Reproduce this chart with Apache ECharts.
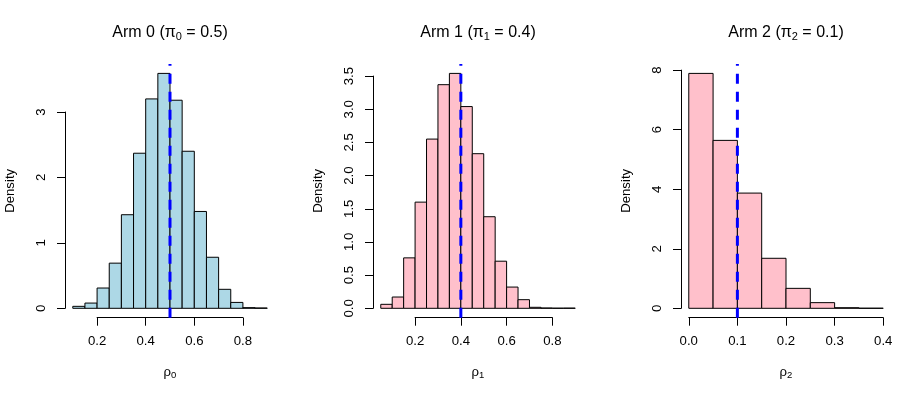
<!DOCTYPE html>
<html>
<head>
<meta charset="utf-8">
<script src="https://cdn.jsdelivr.net/npm/echarts@6/dist/echarts.min.js"></script>
<style>
  html, body { margin: 0; padding: 0; background: #fff; }
  #chart { width: 924px; height: 399px; }
</style>
</head>
<body>
<div id="chart"></div>
<script>
// bin edges + densities for each arm
const breaks0 = [0.10, 0.15, 0.20, 0.25, 0.30, 0.35, 0.40, 0.45, 0.50, 0.55, 0.60, 0.65, 0.70, 0.75, 0.80, 0.85, 0.90];
const density0 = [0.03, 0.08, 0.31, 0.69, 1.43, 2.37, 3.20, 3.59, 3.18, 2.40, 1.48, 0.78, 0.29, 0.09, 0.01, 0.005];

const breaks1 = [0.05, 0.10, 0.15, 0.20, 0.25, 0.30, 0.35, 0.40, 0.45, 0.50, 0.55, 0.60, 0.65, 0.70, 0.75, 0.80, 0.85, 0.90];
const density1 = [0.06, 0.17, 0.76, 1.60, 2.55, 3.37, 3.54, 3.04, 2.33, 1.38, 0.71, 0.32, 0.13, 0.015, 0.005, 0.002, 0.003];

const breaks2 = [0.00, 0.05, 0.10, 0.15, 0.20, 0.25, 0.30, 0.35, 0.40];
const density2 = [7.89, 5.64, 3.87, 1.68, 0.67, 0.19, 0.02, 0.003];

// true proportions (dashed lines)
const truePi = [0.5, 0.4, 0.1];

// tick labels
const xTickLabels0 = ["0.2", "0.4", "0.6", "0.8"];
const yTickLabels0 = ["0", "1", "2", "3"];
const xTickLabels1 = ["0.2", "0.4", "0.6", "0.8"];
const yTickLabels1 = ["0.0", "0.5", "1.0", "1.5", "2.0", "2.5", "3.0", "3.5"];
const xTickLabels2 = ["0.0", "0.1", "0.2", "0.3", "0.4"];
const yTickLabels2 = ["0", "2", "4", "6", "8"];

const titles = ["Arm 0 (π{s|0} = 0.5)", "Arm 1 (π{s|1} = 0.4)", "Arm 2 (π{s|2} = 0.1)"];
const xNames = ["ρ{s|0}", "ρ{s|1}", "ρ{s|2}"];
const fills = ["#add8e6", "#ffc0cb", "#ffc0cb"];

const panels = [
  { breaks: breaks0, dens: density0, xt: xTickLabels0, yt: yTickLabels0 },
  { breaks: breaks1, dens: density1, xt: xTickLabels1, yt: yTickLabels1 },
  { breaks: breaks2, dens: density2, xt: xTickLabels2, yt: yTickLabels2 },
];

const FONT = "Liberation Sans, Arial, sans-serif";
const panelW = 308;
const plotLeft = 65;
const plotW = 210;
const plotTop = 64;
const plotH = 253.7;

const subRich = (size, pad) => ({
  s: { fontSize: size, fontFamily: FONT, color: "#000", padding: [pad, 0, 0, 0] },
});

const grid = [];
const xAxis = [];
const yAxis = [];
const series = [];
const title = [];

panels.forEach((p, i) => {
  const L = i * panelW + plotLeft;
  // R style 4% range extension
  const xLo = p.breaks[0];
  const xHi = p.breaks[p.breaks.length - 1];
  const xMin = xLo - 0.04 * (xHi - xLo);
  const xMax = xHi + 0.04 * (xHi - xLo);
  const yHi = Math.max(...p.dens);
  const yMin = -0.04 * yHi;
  const yMax = 1.04 * yHi;

  const px = (v) => L + ((v - xMin) / (xMax - xMin)) * plotW;
  const py = (v) => plotTop + ((yMax - v) / (yMax - yMin)) * plotH;

  const xt = p.xt.map(Number);
  const yt = p.yt.map(Number);

  // plot area grid
  grid.push({ left: L, top: plotTop, width: plotW, height: plotH, outerBoundsMode: "none" });
  xAxis.push({
    type: "value", gridIndex: 3 * i, min: xMin, max: xMax,
    axisLine: { show: false }, axisTick: { show: false }, axisLabel: { show: false }, splitLine: { show: false },
    name: xNames[i], nameLocation: "middle", nameGap: 47,
    nameTextStyle: { fontSize: 13.2, fontFamily: FONT, color: "#000", rich: subRich(9.5, 6) },
  });
  yAxis.push({
    type: "value", gridIndex: 3 * i, min: yMin, max: yMax,
    axisLine: { show: false }, axisTick: { show: false }, axisLabel: { show: false }, splitLine: { show: false },
    name: "Density", nameLocation: "middle", nameGap: 48, nameRotate: 90,
    nameTextStyle: { fontSize: 13.2, fontFamily: FONT, color: "#000" },
  });

  // x axis grid (line spans first..last tick)
  grid.push({ left: px(xt[0]), width: px(xt[xt.length - 1]) - px(xt[0]), top: plotTop, height: plotH, outerBoundsMode: "none" });
  xAxis.push({
    type: "value", gridIndex: 3 * i + 1, min: xt[0], max: xt[xt.length - 1], interval: xt[1] - xt[0],
    axisLine: { show: true, lineStyle: { color: "#000", width: 1 } },
    axisTick: { show: true, inside: false, length: 8, lineStyle: { color: "#000", width: 1 } },
    axisLabel: {
      margin: 17, fontSize: 13.2, fontFamily: FONT, color: "#000", showMinLabel: true, showMaxLabel: true, hideOverlap: false,
      formatter: (v) => p.xt[xt.findIndex((t) => Math.abs(t - v) < 1e-9)] ?? "",
    },
    splitLine: { show: false },
  });
  yAxis.push({ type: "value", gridIndex: 3 * i + 1, show: false });

  // y axis grid (line spans first..last tick)
  grid.push({ left: L, width: 10, top: py(yt[yt.length - 1]), height: py(yt[0]) - py(yt[yt.length - 1]), outerBoundsMode: "none" });
  xAxis.push({ type: "value", gridIndex: 3 * i + 2, show: false });
  yAxis.push({
    type: "value", gridIndex: 3 * i + 2, min: yt[0], max: yt[yt.length - 1], interval: yt[1] - yt[0],
    axisLine: { show: true, lineStyle: { color: "#000", width: 1 } },
    axisTick: { show: true, inside: false, length: 8, lineStyle: { color: "#000", width: 1 } },
    axisLabel: {
      margin: 17, rotate: 90, fontSize: 13.2, fontFamily: FONT, color: "#000", showMinLabel: true, showMaxLabel: true, hideOverlap: false,
      formatter: (v) => p.yt[yt.findIndex((t) => Math.abs(t - v) < 1e-9)] ?? "",
    },
    splitLine: { show: false },
  });

  // histogram bars
  const bins = p.dens.map((d, k) => [p.breaks[k], p.breaks[k + 1], d]);
  series.push({
    type: "custom",
    xAxisIndex: 3 * i,
    yAxisIndex: 3 * i,
    data: bins,
    encode: { x: [0, 1], y: 2 },
    renderItem: (params, api) => {
      const a = api.coord([api.value(0), api.value(2)]);
      const b = api.coord([api.value(1), 0]);
      return {
        type: "rect",
        shape: { x: a[0], y: a[1], width: b[0] - a[0], height: b[1] - a[1] },
        style: { fill: fills[i], stroke: "#000", lineWidth: 1 },
      };
    },
  });

  // dashed true value line (drawn bottom -> top like abline)
  series.push({
    type: "line",
    xAxisIndex: 3 * i,
    yAxisIndex: 3 * i,
    data: [[truePi[i], yMin], [truePi[i], yMax]],
    symbol: "none",
    lineStyle: { color: "#0000ff", width: 3, type: [10, 8] },
    z: 5,
  });

  title.push({
    text: titles[i],
    left: L + plotW / 2 - 5,
    top: 28,
    textAlign: "center",
    textVerticalAlign: "middle",
    textStyle: { fontSize: 16, fontWeight: "normal", fontFamily: FONT, color: "#000", rich: subRich(11, 7) },
  });
});

const chart = echarts.init(document.getElementById("chart"));
chart.setOption({
  animation: false,
  backgroundColor: "#fff",
  title,
  grid,
  xAxis,
  yAxis,
  series,
});
</script>
</body>
</html>
